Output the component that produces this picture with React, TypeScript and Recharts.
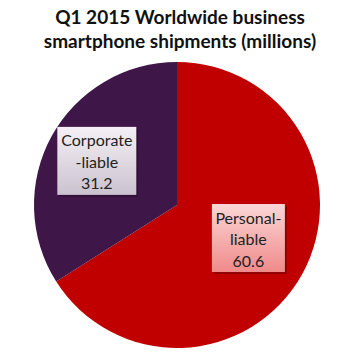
import { Cell, Pie, PieChart } from "recharts";

const segments = ["Personal-liable", "Corporate-liable"];
const shipments = [60.6, 31.2];
const labelLines = [["Personal-", "liable"], ["Corporate", "-liable"]];
const sliceColors = ["#c00000", "#3f1648"];
const titleLines = ["Q1 2015 Worldwide business", "smartphone shipments (millions)"];

const chartData = segments.map((name, i) => ({ name, value: shipments[i] }));

const RAD = Math.PI / 180;

function BoxLabel(props: any) {
  const { cx, cy, midAngle, outerRadius, index, value } = props;
  // excel's "best fit" puts the boxes at slightly different depths
  const r = outerRadius * (index === 0 ? 0.55 : 0.64);
  const ang = midAngle + (index === 0 ? 4 : 0);
  const x = cx + r * Math.cos(-ang * RAD);
  const y = cy + r * Math.sin(-ang * RAD);
  const w = index === 0 ? 73 : 79;
  const h = 68;
  const lines = [...labelLines[index], String(value)];
  const grad = index === 0 ? "boxRed" : "boxPurple";
  return (
    <g>
      <rect x={x - w / 2 + 2} y={y - h / 2 + 2} width={w} height={h} fill="#000" opacity={0.25} />
      <rect x={x - w / 2} y={y - h / 2} width={w} height={h} fill={`url(#${grad})`} />
      {lines.map((t, i) => (
        <text
          key={i}
          x={x}
          y={y - 21 + i * 21.5}
          textAnchor="middle"
          dominantBaseline="central"
          fontFamily="Lato, 'Open Sans', sans-serif"
          fontSize={16}
          fill="#222"
        >
          {t}
        </text>
      ))}
    </g>
  );
}

export default function App() {
  return (
    <div style={{ position: "absolute", left: 0, top: 0, width: 360, height: 360, background: "#fff" }}>
      <div
        style={{
          position: "absolute",
          left: 0,
          top: 5,
          width: 360,
          textAlign: "center",
          fontFamily: "Lato, 'Open Sans', sans-serif",
          fontWeight: 700,
          fontSize: 19,
          lineHeight: "24px",
          color: "#111",
        }}
      >
        {titleLines.map((t) => (
          <div key={t}>{t}</div>
        ))}
      </div>
      <PieChart width={360} height={360} margin={{ top: 0, right: 0, bottom: 0, left: 0 }}>
        <defs>
          <linearGradient id="boxRed" x1="0" y1="0" x2="0" y2="1">
            <stop offset="0%" stopColor="#fbd6d6" />
            <stop offset="100%" stopColor="#f08a8a" />
          </linearGradient>
          <linearGradient id="boxPurple" x1="0" y1="0" x2="0" y2="1">
            <stop offset="0%" stopColor="#f4f0f4" />
            <stop offset="100%" stopColor="#cbc2cf" />
          </linearGradient>
        </defs>
        <Pie
          data={chartData}
          dataKey="value"
          cx={177}
          cy={205}
          outerRadius={143}
          startAngle={90}
          endAngle={-270}
          stroke="none"
          labelLine={false}
          label={BoxLabel}
          isAnimationActive={false}
        >
          {chartData.map((entry, index) => (
            <Cell key={entry.name} fill={sliceColors[index]} />
          ))}
        </Pie>
      </PieChart>
    </div>
  );
}
